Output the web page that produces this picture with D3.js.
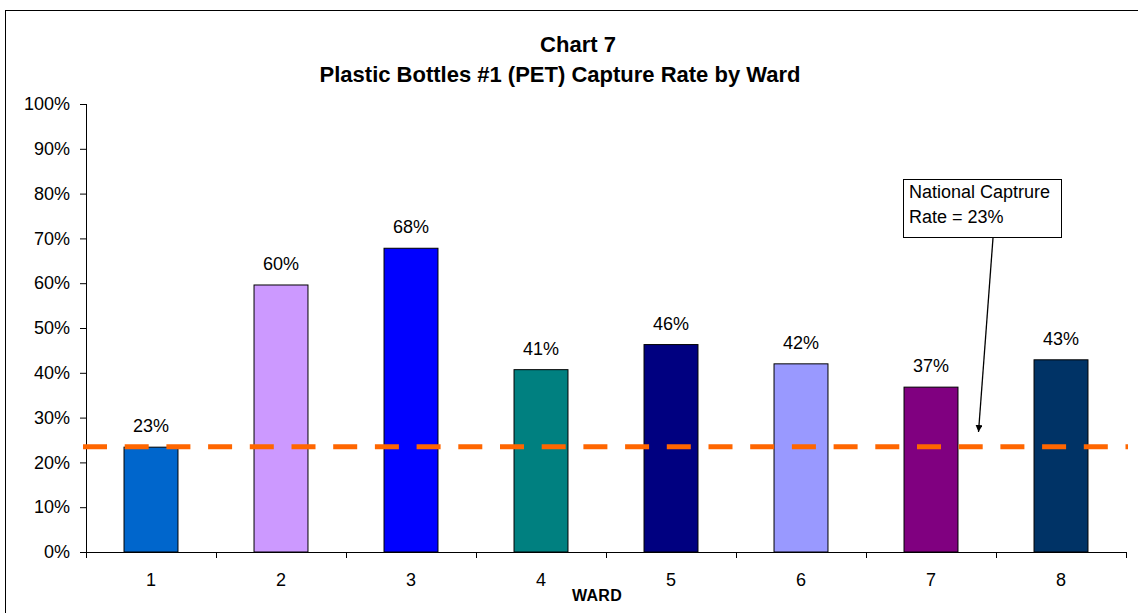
<!DOCTYPE html>
<html>
<head>
<meta charset="utf-8">
<script src="https://cdn.jsdelivr.net/npm/d3@7"></script>
<style>
  html, body { margin: 0; padding: 0; background: #fff; }
  svg { display: block; font-family: "Liberation Sans", Arial, sans-serif; }
</style>
</head>
<body>
<svg id="chart" width="1138" height="613"></svg>
<script>
// ---- data ----
const wards = ["1", "2", "3", "4", "5", "6", "7", "8"];
const captureRates = [0.234, 0.596, 0.678, 0.407, 0.463, 0.420, 0.368, 0.429];
const valueLabels = ["23%", "60%", "68%", "41%", "46%", "42%", "37%", "43%"];
const barColors = ["#0066CC", "#CC99FF", "#0000FF", "#008080", "#000080", "#9999FF", "#800080", "#003366"];
const yTickValues = [0, 0.1, 0.2, 0.3, 0.4, 0.5, 0.6, 0.7, 0.8, 0.9, 1.0];
const nationalRate = 0.235;
const titleLines = ["Chart 7", "Plastic Bottles #1 (PET) Capture Rate by Ward"];
const xAxisTitle = "WARD";
const noteLines = ["National Captrure", "Rate = 23%"];

// ---- layout ----
const svg = d3.select("#chart");
const plot = { left: 86, right: 1126, top: 104, bottom: 552 };

// outer chart border (top & left visible, rest clipped off-canvas)
svg.append("rect")
  .attr("x", 5.5).attr("y", 10.5)
  .attr("width", 1150).attr("height", 620)
  .attr("fill", "none").attr("stroke", "#000").attr("stroke-width", 1);

const x = d3.scaleBand()
  .domain(wards)
  .range([plot.left, plot.right])
  .paddingInner(0.585)
  .paddingOuter(0.2925);

const y = d3.scaleLinear().domain([0, 1]).range([plot.bottom, plot.top]);

// title
svg.append("text")
  .attr("x", 578).attr("y", 52)
  .attr("text-anchor", "middle")
  .attr("font-weight", "bold").attr("font-size", 22)
  .text(titleLines[0]);
svg.append("text")
  .attr("x", 560).attr("y", 82)
  .attr("text-anchor", "middle")
  .attr("font-weight", "bold").attr("font-size", 22)
  .text(titleLines[1]);

// y axis
const yAxis = d3.axisLeft(y)
  .tickValues(yTickValues)
  .tickFormat(d3.format(".0%"))
  .tickSize(6)
  .tickPadding(10);
const gy = svg.append("g")
  .attr("transform", `translate(${plot.left},0)`)
  .call(yAxis);
gy.select(".domain").attr("stroke", "#000").attr("d", `M0.5,${plot.top}V${plot.bottom}`);
gy.selectAll(".tick line").attr("stroke", "#000");
gy.selectAll(".tick text")
  .attr("font-family", "Liberation Sans, Arial, sans-serif")
  .attr("font-size", 18).attr("fill", "#000");

// bars
svg.append("g").selectAll("rect")
  .data(wards)
  .join("rect")
  .attr("x", d => x(d))
  .attr("y", (d, i) => y(captureRates[i]))
  .attr("width", x.bandwidth())
  .attr("height", (d, i) => y(0) - y(captureRates[i]))
  .attr("fill", (d, i) => barColors[i])
  .attr("stroke", "#000")
  .attr("stroke-width", 1);

// bar value labels
svg.append("g").selectAll("text")
  .data(wards)
  .join("text")
  .attr("x", d => x(d) + x.bandwidth() / 2)
  .attr("y", (d, i) => y(captureRates[i]) - 15)
  .attr("text-anchor", "middle")
  .attr("font-size", 18)
  .attr("fill", "#000")
  .text((d, i) => valueLabels[i]);

// x axis
const gx = svg.append("g")
  .attr("transform", `translate(0,${plot.bottom})`);
gx.append("line")
  .attr("x1", plot.left).attr("x2", plot.right)
  .attr("y1", 0.5).attr("y2", 0.5)
  .attr("stroke", "#000");
const boundaries = d3.range(wards.length + 1).map(i => plot.left + i * x.step());
gx.selectAll(".btick")
  .data(boundaries)
  .join("line")
  .attr("class", "btick")
  .attr("x1", d => Math.round(d) + 0.5).attr("x2", d => Math.round(d) + 0.5)
  .attr("y1", 0).attr("y2", 6)
  .attr("stroke", "#000");
gx.selectAll(".xlab")
  .data(wards)
  .join("text")
  .attr("class", "xlab")
  .attr("x", d => x(d) + x.bandwidth() / 2)
  .attr("y", 34)
  .attr("text-anchor", "middle")
  .attr("font-size", 18)
  .attr("fill", "#000")
  .text(d => d);

svg.append("text")
  .attr("x", 597).attr("y", 601)
  .attr("text-anchor", "middle")
  .attr("font-weight", "bold").attr("font-size", 16)
  .attr("letter-spacing", "0.3")
  .text(xAxisTitle);

// national rate dashed line
svg.append("line")
  .attr("x1", plot.left - 3).attr("x2", plot.right + 2)
  .attr("y1", y(nationalRate)).attr("y2", y(nationalRate))
  .attr("stroke", "#FF6600")
  .attr("stroke-width", 5)
  .attr("stroke-dasharray", "24,17.7");

// annotation box
const note = svg.append("g");
note.append("rect")
  .attr("x", 903.5).attr("y", 179.5)
  .attr("width", 158).attr("height", 58)
  .attr("fill", "#fff").attr("stroke", "#000");
note.selectAll("text")
  .data(noteLines)
  .join("text")
  .attr("x", 909)
  .attr("y", (d, i) => 198 + i * 25)
  .attr("font-size", 18)
  .attr("fill", "#000")
  .text(d => d);

// arrow
const defs = svg.append("defs");
defs.append("marker")
  .attr("id", "arrowhead")
  .attr("viewBox", "0 0 10 10")
  .attr("refX", 10).attr("refY", 5)
  .attr("markerWidth", 7).attr("markerHeight", 7)
  .attr("markerUnits", "userSpaceOnUse")
  .attr("orient", "auto")
  .append("path")
  .attr("d", "M0,0L10,5L0,10Z")
  .attr("fill", "#000");
svg.append("line")
  .attr("x1", 993).attr("y1", 238)
  .attr("x2", 978.5).attr("y2", 432)
  .attr("stroke", "#000").attr("stroke-width", 1.3)
  .attr("marker-end", "url(#arrowhead)");
</script>
</body>
</html>
